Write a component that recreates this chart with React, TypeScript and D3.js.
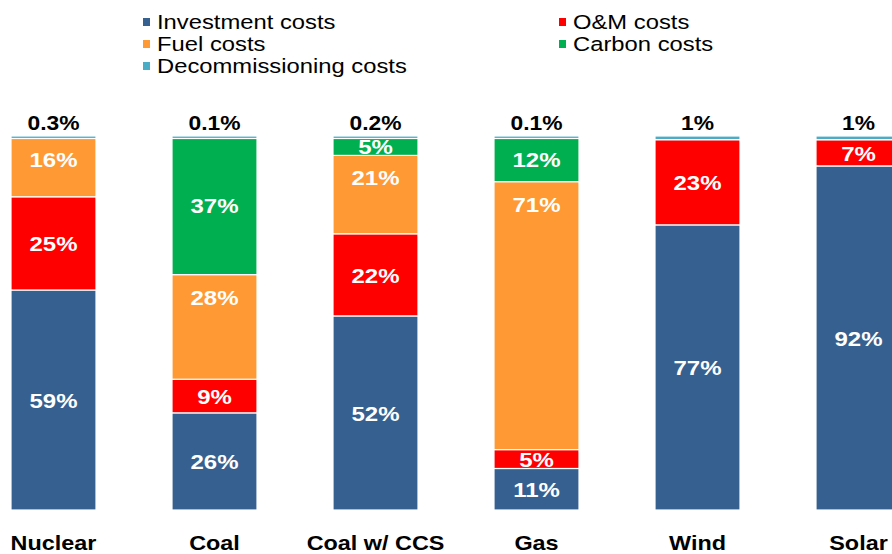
import React from "react";
import * as d3 from "d3";

const categories = ["Nuclear", "Coal", "Coal w/ CCS", "Gas", "Wind", "Solar"];
const investment = [59, 26, 52, 11, 77, 92];
const om = [25, 9, 22, 5, 23, 7];
const fuel = [16, 28, 21, 71, 0, 0];
const carbon = [0, 37, 5, 12, 0, 0];
const decommissioning = [0.3, 0.1, 0.2, 0.1, 1, 1];

const seriesKeys = ["investment", "om", "fuel", "carbon", "decom"];
const seriesNames = [
  "Investment costs",
  "O&M costs",
  "Fuel costs",
  "Carbon costs",
  "Decommissioning costs",
];
const colors = ["#36608F", "#FF0000", "#FF9933", "#00B050", "#4BACC6"];

const width = 892;
const height = 554;
const font = "Arial, 'Liberation Sans', sans-serif";
const sx = 1.17;

const App = () => {
  const rows = categories.map((c, i) => ({
    cat: c,
    investment: investment[i],
    om: om[i],
    fuel: fuel[i],
    carbon: carbon[i],
    decom: decommissioning[i],
  }));

  const stack = d3
    .stack<any>()
    .keys(seriesKeys)
    .offset(d3.stackOffsetExpand);
  const layers = stack(rows);

  const x = d3
    .scaleBand()
    .domain(categories)
    .range([11, 901])
    .paddingInner(0.472)
    .paddingOuter(0);
  const y = d3.scaleLinear().domain([0, 1]).range([510, 136]);

  const legendPos = [
    [143, 22],
    [559, 22],
    [143, 44],
    [559, 44],
    [143, 66],
  ];

  return (
    <svg
      width={width}
      height={height}
      style={{ position: "absolute", left: 0, top: 0, background: "#fff" }}
    >
      {legendPos.map(([lx, ly], i) => (
        <g key={i}>
          <rect x={lx} y={ly - 4} width={7} height={8} fill={colors[i]} />
          <text
            transform={`translate(${lx + 14},${ly + 7}) scale(1.22,1)`}
            fontFamily={font}
            fontSize={19.5}
            fill="#000"
          >
            {seriesNames[i]}
          </text>
        </g>
      ))}

      {layers.map((layer, li) => (
        <g key={li}>
          {layer.map((d, i) => {
            const v = (rows[i] as any)[seriesKeys[li]];
            if (!v) return null;
            const bx = x(categories[i])!;
            const bw = x.bandwidth();
            let y0 = y(d[1]);
            let h = y(d[0]) - y(d[1]);
            const isDecom = li === seriesKeys.length - 1;
            if (isDecom && h < 2.5) h = 2.5;
            const cx = bx + bw / 2;
            // fuel labels sit near the top of their segment in the original
            const ly = seriesKeys[li] === "fuel" ? y0 + 22 : y0 + h / 2;
            return (
              <g key={i}>
                <rect
                  x={bx}
                  y={y0}
                  width={bw}
                  height={h}
                  fill={colors[li]}
                  stroke="#fff"
                  strokeWidth={1.2}
                />
                {isDecom ? (
                  <text
                    transform={`translate(${cx},${y0 - 6}) scale(${sx},1)`}
                    textAnchor="middle"
                    fontFamily={font}
                    fontWeight="bold"
                    fontSize={19.5}
                    fill="#000"
                  >
                    {`${v}%`}
                  </text>
                ) : (
                  <text
                    transform={`translate(${cx},${ly + 8}) scale(${sx},1)`}
                    textAnchor="middle"
                    fontFamily={font}
                    fontWeight="bold"
                    fontSize={20.5}
                    fill="#fff"
                  >
                    {`${v}%`}
                  </text>
                )}
              </g>
            );
          })}
        </g>
      ))}

      {categories.map((c) => (
        <text
          key={c}
          transform={`translate(${x(c)! + x.bandwidth() / 2},550) scale(${sx},1)`}
          textAnchor="middle"
          fontFamily={font}
          fontWeight="bold"
          fontSize={20}
          fill="#000"
        >
          {c}
        </text>
      ))}
    </svg>
  );
};

export default App;
